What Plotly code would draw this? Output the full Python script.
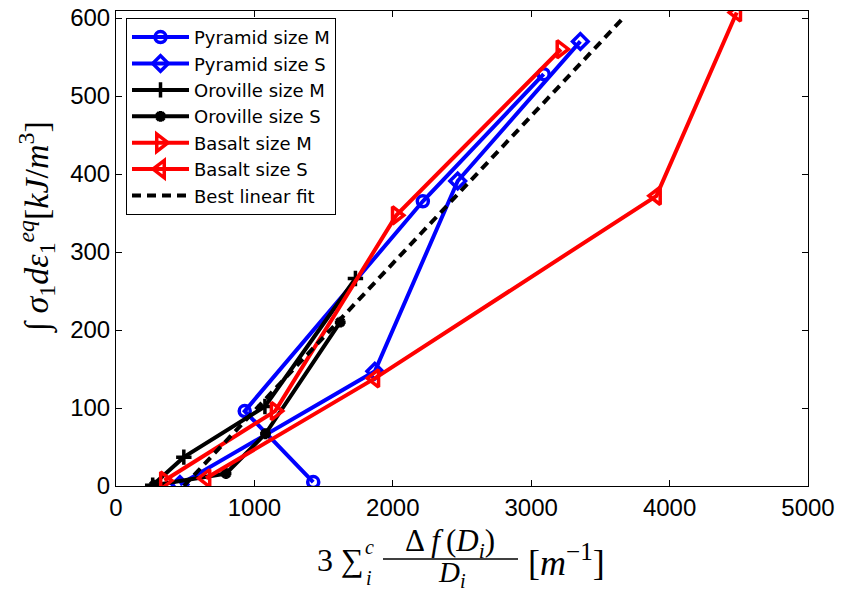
import plotly.graph_objects as go

# ---- data ----
pyrM_x = [1425, 930, 2217, 3090]
pyrM_y = [5, 96, 365, 528]
pyrS_x = [462, 1870, 2469, 3355]
pyrS_y = [2, 147, 391, 570]
oroM_x = [265, 490, 1076, 1730]
oroM_y = [1, 37, 102, 266]
oroS_x = [275, 795, 1080, 1620]
oroS_y = [1, 16, 67, 210]
basM_x = [3215, 2025, 1150, 350]
basM_y = [560, 347, 96, 7]
basS_x = [4485, 3905, 1870, 650]
basS_y = [607, 372, 138, 10]
fit_x = [490, 3665]
fit_y = [0, 600]

x_ticks = [0, 1000, 2000, 3000, 4000, 5000]
y_ticks = [0, 100, 200, 300, 400, 500, 600]

W, H = 842, 592
L, R, T, B = 116, 808, 5, 486  # plot area in page pixels

def px(xp):
    return (xp - L) / (R - L)

def py(yp):
    return (B - yp) / (B - T)

fig = go.Figure()

series = [
    ("Pyramid size M", pyrM_x, pyrM_y, "blue", "circle-open", 11),
    ("Pyramid size S", pyrS_x, pyrS_y, "blue", "diamond-open", 12),
    ("Oroville size M", oroM_x, oroM_y, "black", "cross-thin-open", 11),
    ("Oroville size S", oroS_x, oroS_y, "black", "asterisk-open", 9),
    ("Basalt size M", basM_x, basM_y, "red", "triangle-right-open", 15),
    ("Basalt size S", basS_x, basS_y, "red", "triangle-left-open", 15),
]
for name, xs, ys, col, sym, size in series:
    fig.add_trace(go.Scatter(
        x=xs, y=ys, name=name, mode="lines+markers",
        line=dict(color=col, width=4),
        marker=dict(symbol=sym, size=size, color=col, line=dict(color=col, width=3.5)),
    ))

fig.add_trace(go.Scatter(
    x=fit_x, y=fit_y, name="Best linear fit", mode="lines",
    line=dict(color="black", width=4, dash="9px,6px"),
))

serif = "Liberation Serif"
TH = "\u2009"

def note(xp, yp, text, size, **kw):
    d = dict(x=px(xp), y=py(yp), xref="paper", yref="paper", text=text,
             showarrow=False, xanchor="center", yanchor="middle",
             font=dict(family=serif, size=size, color="black"))
    d.update(kw)
    return d

ann = [
    note(36, 224,
         "∫ <i>σ</i><sub>1</sub><i>dε</i><sub>1</sub><sup><i>eq</i></sup>[<i>kJ</i>/<i>m</i><sup>3</sup>]",
         34, textangle=-90),
    note(340, 561, "3 ∑", 32),
    note(369, 548, "<i>c</i>", 20),
    note(369, 579, "<i>i</i>", 20),
    note(450, 544, "Δ" + TH + "<i>f</i>" + TH + "(<i>D</i><sub><i>i</i></sub>)", 31),
    note(452, 575, "<i>D</i><sub><i>i</i></sub>", 29),
    note(566, 561, "[<i>m</i><sup>−1</sup>]", 36),
]

fig.update_layout(
    width=W, height=H,
    margin=dict(l=L, r=W - R, t=T, b=H - B, pad=0),
    paper_bgcolor="white", plot_bgcolor="white",
    font=dict(family="Liberation Sans, Arial", size=24, color="black"),
    showlegend=True,
    legend=dict(
        x=px(126), y=py(12), xanchor="left", yanchor="top",
        bgcolor="white", bordercolor="black", borderwidth=1,
        font=dict(family="DejaVu Sans", size=18, color="black"),
        tracegroupgap=0, itemwidth=57,
    ),
    annotations=ann,
    shapes=[dict(type="line", xref="paper", yref="paper",
                 x0=px(383), x1=px(518), y0=py(560), y1=py(560),
                 line=dict(color="black", width=1.5))],
)

axis_common = dict(
    showgrid=False, zeroline=False, showline=True, linecolor="black", linewidth=1,
    mirror="ticks", ticks="inside", ticklen=6, tickcolor="black",
    tickfont=dict(size=24), ticklabeloverflow="allow",
)
fig.update_xaxes(range=[0, 5000], tickvals=x_ticks,
                 ticktext=[str(v) for v in x_ticks], **axis_common)
fig.update_yaxes(range=[0, 609], tickvals=y_ticks,
                 ticktext=[str(v) for v in y_ticks], **axis_common)

fig.write_html("out.html", config={"displayModeBar": False},
               post_script="document.body.style.margin='0px';")
